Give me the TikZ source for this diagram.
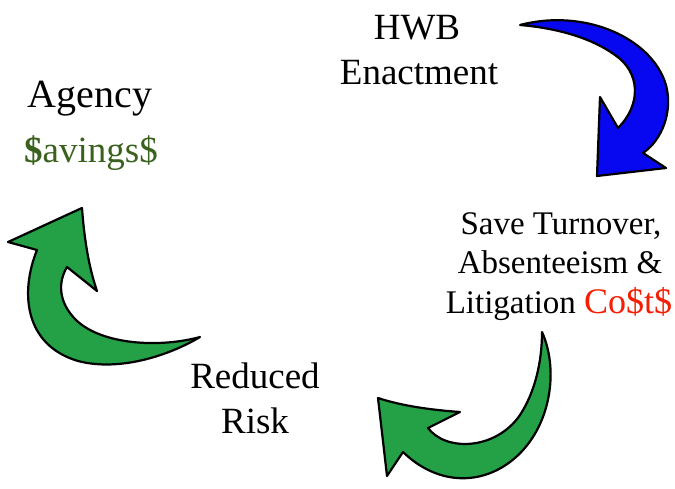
\documentclass[tikz,border=0pt]{standalone}
\usepackage{fontspec}
\setmainfont{Liberation Serif}
\definecolor{arrowblue}{RGB}{8,8,240}
\definecolor{arrowgreen}{RGB}{36,160,70}
\definecolor{savegreen}{RGB}{58,98,30}
\definecolor{costred}{RGB}{245,30,5}
\tikzset{
  curvedarrow/.style={draw=black, line width=2.2pt, line join=round},
  lbl/.style={anchor=base, inner sep=0pt},
  bigtxt/.style={lbl, font=\fontsize{37}{44}\selectfont},
  midtxt/.style={lbl, font=\fontsize{33}{39}\selectfont},
  agtxt/.style={lbl, font=\fontsize{40}{48}\selectfont}
}
\begin{document}
\begin{tikzpicture}[x=1pt,y=-1pt]
\useasboundingbox (0,0) rectangle (675,489);
% blue arrow (top right)
\path[curvedarrow, fill=arrowblue] (520,25)
  .. controls (585,8) and (652,38) .. (666,85)
  .. controls (673,112) and (662,140) .. (643,153)
  -- (666,168) -- (597,176) -- (600,97) -- (618,128)
  .. controls (642,104) and (640,72) .. (615,55)
  .. controls (590,37) and (555,28) .. cycle;
% green arrow (left)
\path[curvedarrow, fill=arrowgreen] (82,208)
  .. controls (60,218) and (30,232) .. (8,242)
  -- (37,250)
  .. controls (20,292) and (24,345) .. (78,361)
  .. controls (120,372) and (170,355) .. (200,337)
  .. controls (160,348) and (102,345) .. (76,320)
  .. controls (58,302) and (58,282) .. (67,267)
  -- (97,291)
  .. controls (88,265) and (84,235) .. cycle;
% green arrow (bottom)
\path[curvedarrow, fill=arrowgreen] (542,332)
  .. controls (560,372) and (550,432) .. (510,462)
  .. controls (478,486) and (436,484) .. (403,452)
  -- (387,476) -- (378,398)
  .. controls (402,406) and (432,410) .. (460,412)
  -- (428,428)
  .. controls (446,452) and (496,450) .. (520,415)
  .. controls (535,392) and (542,362) .. cycle;
% texts
\node[bigtxt] (hwb1) at (417,40) {HWB};
\node[bigtxt] (hwb2) at (419,85) {Enactment};
\node[agtxt] (ag1) at (90,108) {Agency};
\node[agtxt, text=savegreen, font=\fontsize{37}{44}\selectfont] (ag2) at (91,163) {\textbf{\$}avings\$};
\node[midtxt] (sv1) at (561,235) {Save Turnover,};
\node[midtxt] (sv2) at (560,274) {Absenteeism \&};
\node[midtxt] (sv3) at (559,313) {Litigation \textcolor{costred}{\fontsize{36}{44}\selectfont Co\$t\$}};
\node[bigtxt] (rr1) at (255,388) {Reduced};
\node[bigtxt] (rr2) at (255,433) {Risk};
\end{tikzpicture}
\end{document}
